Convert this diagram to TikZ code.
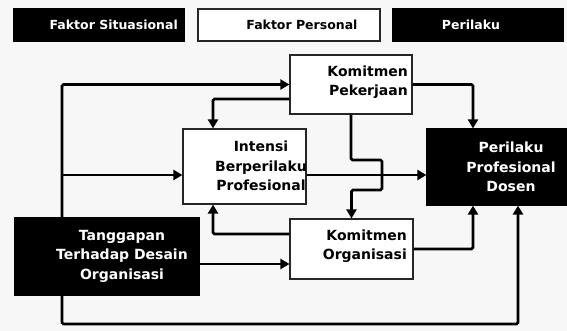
\documentclass[tikz,border=0pt]{standalone}
\usepackage{fontspec}
\setmainfont{DejaVu Sans}
\usetikzlibrary{arrows.meta}
\begin{document}
\begin{tikzpicture}[x=1pt,y=-1pt,
  wbox/.style={draw=black!85,line width=1.2pt,fill=white,inner sep=0pt},
  bbox/.style={draw=black,line width=1.2pt,fill=black,inner sep=0pt},
  txt/.style={font=\fontsize{14}{19.5}\selectfont\bfseries,inner sep=0pt},
  htxt/.style={font=\fontsize{12.5}{14}\selectfont\bfseries,inner sep=0pt},
  conn/.style={line width=2.8pt,rounded corners=1.5pt,-{Triangle[length=9pt,width=10pt]}}]
\useasboundingbox (0,0) rectangle (567,331);
\fill[gray!6] (0,0) rectangle (567,331);
% header boxes
\node[bbox,minimum width=170pt,minimum height=32pt] (hs) at (99,25) {};
\node[wbox,minimum width=182pt,minimum height=32pt] (hp) at (289,25) {};
\node[bbox,minimum width=170pt,minimum height=32pt] (hb) at (478,25) {};
\node[htxt,text=white,anchor=east] (hst) at (178,25) {Faktor Situasional};
\node[htxt] (hpt) at (302,25) {Faktor Personal};
\node[htxt,text=white] (hbt) at (471,25) {Perilaku};
% main boxes
\node[wbox,minimum width=122pt,minimum height=59pt] (kp) at (351,84.5) {};
\node[wbox,minimum width=123pt,minimum height=75pt] (in) at (244.5,166.5) {};
\node[bbox,minimum width=139pt,minimum height=76pt] (pd) at (496.5,167) {};
\node[wbox,minimum width=123pt,minimum height=60pt] (ko) at (351.5,249) {};
\node[bbox,minimum width=184pt,minimum height=77pt] (tg) at (107,256.5) {};
\node[txt,align=right,anchor=east] (kpt) at (408,82) {Komitmen\\Pekerjaan};
\node[txt,align=center] (int) at (261,166) {Intensi\\Berperilaku\\Profesional};
\node[txt,align=center,text=white] (pdt) at (511,167) {Perilaku\\Profesional\\Dosen};
\node[txt,align=right,anchor=east] (kot) at (407,246) {Komitmen\\Organisasi};
\node[txt,align=center,text=white] (tgt) at (122,256) {Tanggapan\\Terhadap Desain\\Organisasi};
% coordinates
\coordinate (L) at (62,84.5);
\coordinate (L2) at (62,175);
\coordinate (B) at (518,324);
\coordinate (T) at (0,264);
\coordinate (A1) at (213,99);
\coordinate (A2) at (213,234);
\coordinate (R1) at (473,84.5);
\coordinate (J1) at (382,160);
\coordinate (J2) at (382,190);
% connectors
\draw[conn] (tg.north -| L) |- (kp.west);
\draw[conn] (L2) -- (L2 -| in.west);
\draw[conn] (tg.south -| L) |- (B) -- (B |- pd.south);
\draw[conn] (tg.east |- T) -- (ko.west |- T);
\draw[conn] (kp.west |- A1) -| (in.north -| A1);
\draw[conn] (ko.west |- A2) -| (in.south -| A2);
\draw[conn] (kp.east) -| (pd.north -| R1);
\draw[conn] (ko.east) -| (pd.south -| R1);
\draw[conn] (in.east |- L2) -- (pd.west |- L2);
\draw[conn] (kp.south) |- (J1) -- (J2) -| (ko.north);
\end{tikzpicture}
\end{document}
